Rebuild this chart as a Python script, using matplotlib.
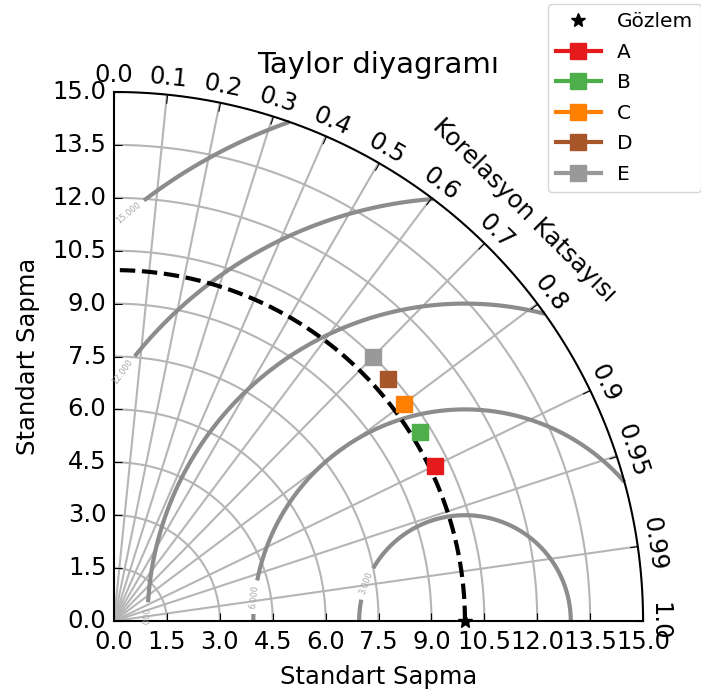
import numpy as np
from matplotlib import pyplot as plt
from matplotlib.projections import PolarAxes
import mpl_toolkits.axisartist.floating_axes as FA
import mpl_toolkits.axisartist.grid_finder as GF


# reference (observation)
ref_std = 9.95
ref_label = 'Gözlem'

# models
model_names = ['A', 'B', 'C', 'D', 'E']
model_std = [10.10, 10.20, 10.27, 10.37, 10.47]
model_corr = [0.90, 0.85, 0.80, 0.75, 0.70]
model_colors = ['#e41a1c', '#4daf4a', '#ff7f00', '#a65628', '#999999']

corr_ticks = [0.0, 0.1, 0.2, 0.3, 0.4, 0.5, 0.6, 0.7, 0.8, 0.9, 0.95, 0.99, 1.0]
std_ticks = [0.0, 1.5, 3.0, 4.5, 6.0, 7.5, 9.0, 10.5, 12.0, 13.5, 15.0]
rms_levels = [3, 6, 9, 12, 15]
std_max = 15.0


fig = plt.figure(figsize=(7.01, 6.98), dpi=100)

tr = PolarAxes.PolarTransform(apply_theta_transforms=False)
tlocs = np.arccos(corr_ticks)
gl1 = GF.FixedLocator(tlocs)
tf1 = GF.DictFormatter(dict(zip(tlocs, [str(c) for c in corr_ticks])))
gl2 = GF.FixedLocator(std_ticks)
tf2 = GF.DictFormatter({s: '%.1f' % s for s in std_ticks})
gh = FA.GridHelperCurveLinear(tr, extremes=(0, np.pi / 2, 0, std_max),
                              grid_locator1=gl1, tick_formatter1=tf1,
                              grid_locator2=gl2, tick_formatter2=tf2)

ax = fig.add_axes([0.1551, 0.1027, 0.7698, 0.7731],
                  axes_class=FA.FloatingAxes, grid_helper=gh)

# correlation axis (outer arc)
ax.axis['top'].set_axis_direction('bottom')
ax.axis['top'].toggle(ticklabels=True, label=True)
ax.axis['top'].major_ticklabels.set_axis_direction('top')
ax.axis['top'].label.set_axis_direction('top')
ax.axis['top'].label.set_text('Korelasyon Katsayısı')

# x axis
ax.axis['left'].set_axis_direction('bottom')
ax.axis['left'].label.set_text('Standart Sapma')

# y axis
ax.axis['right'].set_axis_direction('top')
ax.axis['right'].toggle(ticklabels=True, label=True)
ax.axis['right'].major_ticklabels.set_axis_direction('left')
ax.axis['right'].label.set_axis_direction('left')
ax.axis['right'].label.set_text('Standart Sapma')

ax.axis['bottom'].set_visible(False)

for side in ['top', 'left', 'right']:
    ax.axis[side].major_ticklabels.set_fontsize(17.5)
    ax.axis[side].label.set_fontsize(17.5)
    ax.axis[side].major_ticks.set_ticksize(6)
    ax.axis[side].line.set_linewidth(1.5)

ax.axis['top'].major_ticklabels.set_pad(7)
ax.axis['left'].major_ticklabels.set_pad(7.5)
ax.axis['right'].major_ticklabels.set_pad(5.5)
ax.axis['top'].label.set_pad(8.6)
ax.axis['left'].label.set_pad(11.5)
ax.axis['right'].label.set_pad(8.6)

ax.grid(color='#b5b5b5', lw=1.5)
ax.set_title('Taylor diyagramı', fontsize=21, pad=9.9)

aux = ax.get_aux_axes(tr)

# RMS contours
rs, ts = np.meshgrid(np.linspace(0, std_max, 300), np.linspace(0, np.pi / 2, 300))
rms = np.sqrt(ref_std ** 2 + rs ** 2 - 2 * ref_std * rs * np.cos(ts))
cs = aux.contour(ts, rs, rms, rms_levels, colors='#8c8c8c', linewidths=3)
aux.clabel(cs, inline=True, fontsize=6, fmt='%.3f', colors='#a8a8a8')

# reference arc + point
t = np.linspace(0, np.pi / 2, 200)
aux.plot(t, np.full_like(t, ref_std), 'k--', lw=3)
handles = []
h, = aux.plot([0], [ref_std], 'k*', ms=10, label=ref_label, clip_on=False, zorder=5)
handles.append(h)

for name, s, c, col in zip(model_names, model_std, model_corr, model_colors):
    h, = aux.plot([np.arccos(c)], [s], marker='s', ms=12, color=col, lw=3,
                  label=name, zorder=4)
    handles.append(h)

fig.legend(handles=handles, loc='upper right', bbox_to_anchor=(1.0, 0.994),
           borderaxespad=0.0, fontsize=14.5, numpoints=1, labelspacing=0.57,
           handlelength=2.2)

fig.savefig('out.png', dpi=100)
